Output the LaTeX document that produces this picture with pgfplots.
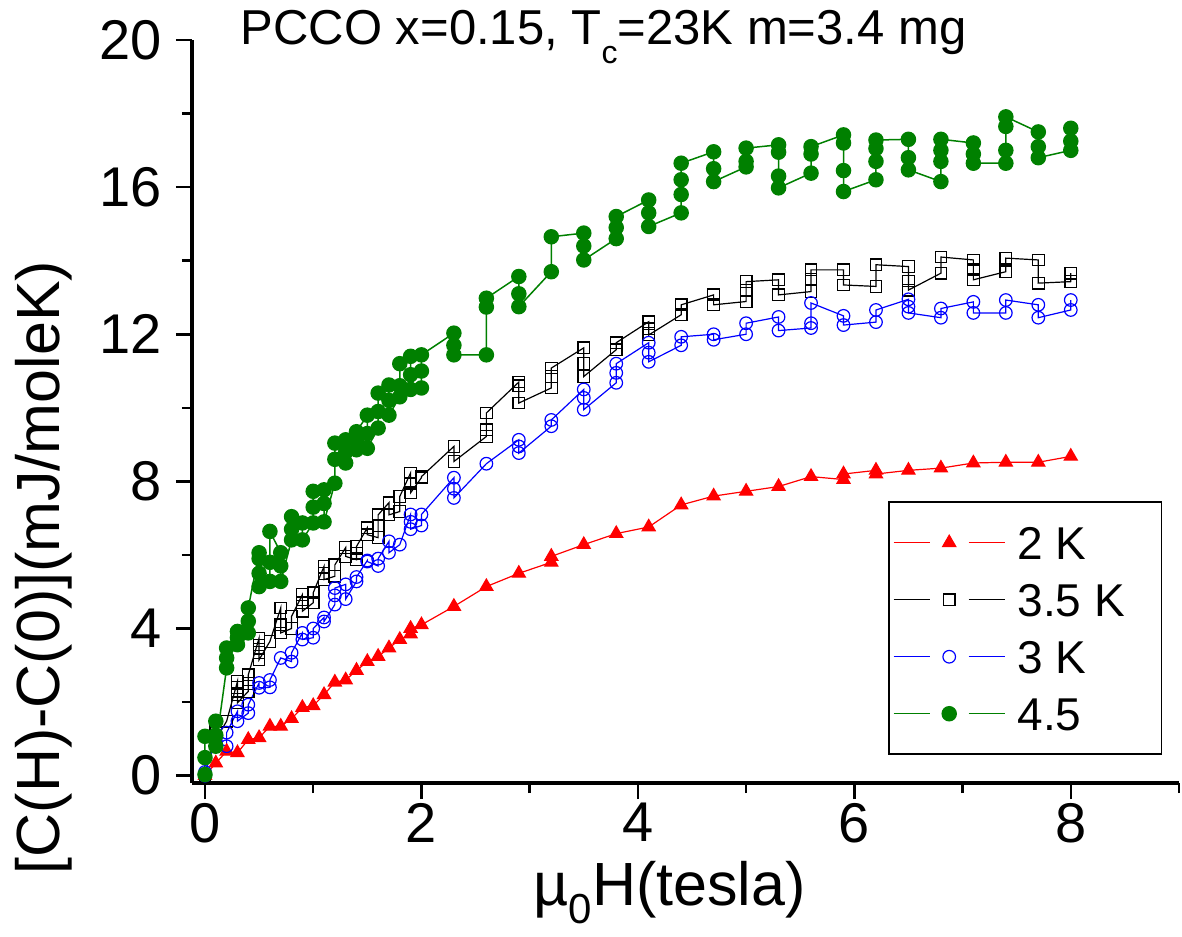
\documentclass[border=0pt]{standalone}
\usepackage{fontspec}
\setmainfont{Liberation Sans}
\usepackage{pgfplots}
\pgfplotsset{compat=1.18}
\definecolor{dkgreen}{RGB}{0,128,0}
\newcommand{\fs}[1]{\fontsize{#1}{#1}\selectfont}
\begin{document}
\begin{tikzpicture}
\path[use as bounding box] (-192bp,-154bp) rectangle (990bp,783bp);
\begin{axis}[
  at={(0,0)}, anchor=south west,
  scale only axis, width=987bp, height=743bp,
  xmin=-0.12, xmax=9, ymin=-0.2, ymax=20,
  axis x line*=bottom, axis y line*=left,
  axis line style={line width=3.5bp, black},
  xtick={0,2,4,6,8}, minor xtick={1,3,5,7,9},
  ytick={0,4,8,12,16,20}, minor ytick={2,6,10,14,18},
  tick align=outside,
  major tick length=16bp, minor tick length=10bp,
  tick style={black, line width=2.5bp},
  /pgf/number format/assume math mode=true,
  tick label style={font=\fs{56bp}},
  yticklabel style={inner sep=0pt, xshift=-14bp},
  xticklabel style={inner sep=0pt, yshift=-4bp},
  xlabel={\textmu\raisebox{-0.3em}{\fs{42bp}0}H(tesla)},
  xlabel style={at={(axis description cs:0.484,-0.1650)}, anchor=base, inner sep=0pt, font=\fs{61bp}},
  ylabel={{}[C(H)-C(0)](mJ/moleK)},
  ylabel style={at={(axis description cs:-0.150,0.29)}, anchor=center, inner sep=0pt, font=\fs{61bp}},
  clip=false,
  legend cell align=left,
  legend image code/.code={
    \draw[#1, mark=none] (0bp,0bp) -- (36bp,0bp) (75bp,0bp) -- (111bp,0bp);
    \draw[#1] plot coordinates {(55.5bp,0bp)};
  },
  legend style={at={(axis description cs:0.983,0.0377)}, anchor=south east,
    draw=black, line width=1.5bp, fill=white, font=\fs{46bp},
    inner xsep=4bp, inner ysep=24bp, row sep=24bp, column sep=12bp,
    nodes={inner sep=0pt, text height=33bp, text depth=0pt}},
]
\addplot[color=red, line width=1.2bp, mark=triangle*, mark size=7.5bp, mark options={solid, fill=red}] table {
x y
0 0
0.1 0.34
0.2 0.66
0.3 0.62
0.4 0.98
0.5 1.03
0.6 1.34
0.7 1.34
0.8 1.55
0.9 1.85
1.0 1.90
1.1 2.20
1.2 2.54
1.3 2.60
1.4 2.86
1.5 3.10
1.6 3.24
1.7 3.47
1.8 3.70
1.9 3.85
1.9 4.00
2.0 4.10
2.3 4.60
2.6 5.14
2.9 5.50
3.2 5.80
3.2 5.96
3.5 6.28
3.8 6.58
4.1 6.76
4.4 7.36
4.7 7.60
5.0 7.73
5.3 7.86
5.6 8.13
5.9 8.05
5.9 8.20
6.2 8.30
6.2 8.20
6.5 8.30
6.8 8.36
7.1 8.50
7.4 8.52
7.7 8.52
8.0 8.68
};
\addlegendentry{\makebox[140bp][l]{2 K}}
\addplot[color=black, line width=1.2bp, mark=square, mark size=5.8bp, mark options={solid}] table {
x y
0 0
0.1 1.25
0.1 0.98
0.2 1.48
0.3 2.56
0.3 2.40
0.3 2.20
0.3 1.98
0.4 2.29
0.4 2.50
0.4 2.74
0.5 3.74
0.5 3.55
0.5 3.35
0.5 3.15
0.6 3.65
0.7 4.56
0.7 4.10
0.7 3.88
0.8 4.00
0.8 4.33
0.9 4.92
0.9 4.70
0.9 4.47
1.0 4.70
1.0 4.97
1.1 5.69
1.1 5.50
1.1 5.33
1.2 5.42
1.2 5.73
1.3 6.20
1.3 5.96
1.4 5.87
1.4 6.05
1.4 6.23
1.5 6.74
1.5 6.55
1.6 6.47
1.6 6.80
1.6 7.09
1.7 7.42
1.7 7.09
1.8 7.18
1.8 7.59
1.9 8.23
1.9 7.95
1.9 7.69
2.0 8.10
2.0 8.13
2.3 8.95
2.3 8.54
2.6 9.22
2.6 9.40
2.6 9.86
2.9 10.70
2.9 10.60
2.9 10.13
3.2 10.54
3.2 10.85
3.2 11.08
3.5 11.63
3.5 11.20
3.5 10.85
3.8 11.58
3.8 11.77
4.1 12.34
4.1 12.15
4.1 11.98
4.4 12.53
4.4 12.80
4.7 13.07
4.7 12.80
5.0 12.89
5.0 13.20
5.0 13.43
5.3 13.48
5.3 13.07
5.6 13.16
5.6 13.50
5.6 13.75
5.9 13.75
5.9 13.34
6.2 13.30
6.2 13.89
6.5 13.84
6.5 13.45
6.5 13.20
6.8 13.66
6.8 14.10
7.1 14.02
7.1 13.75
7.1 13.48
7.4 13.70
7.4 14.07
7.7 14.02
7.7 13.39
8.0 13.43
8.0 13.66
};
\addlegendentry{\makebox[140bp][l]{3.5 K}}
\addplot[color=blue, line width=1.2bp, mark=o, mark size=6.3bp, mark options={solid}] table {
x y
0 0
0 0.10
0.1 0.95
0.1 0.90
0.2 0.80
0.2 1.17
0.3 1.75
0.3 1.48
0.4 1.70
0.4 1.93
0.5 2.52
0.5 2.39
0.6 2.40
0.6 2.60
0.7 3.20
0.8 3.10
0.8 3.34
0.9 3.88
0.9 3.70
1.0 3.75
1.0 4.00
1.1 4.30
1.1 4.19
1.2 4.65
1.2 4.90
1.2 5.10
1.3 5.20
1.3 4.80
1.4 5.28
1.4 5.40
1.5 5.85
1.5 5.82
1.6 5.70
1.6 5.90
1.7 6.37
1.7 6.06
1.8 6.28
1.9 7.10
1.9 6.90
1.9 6.70
2.0 6.80
2.0 7.10
2.3 8.10
2.3 7.80
2.3 7.55
2.6 8.48
2.9 9.13
2.9 8.95
2.9 8.77
3.2 9.50
3.2 9.67
3.5 10.50
3.5 10.27
3.5 9.95
3.8 10.68
3.8 10.95
3.8 11.20
4.1 11.77
4.1 11.50
4.1 11.25
4.4 11.70
4.4 11.93
4.7 12.00
4.7 11.85
5.0 12.00
5.0 12.30
5.3 12.47
5.3 12.10
5.6 12.17
5.6 12.30
5.6 12.85
5.9 12.50
5.9 12.25
6.2 12.33
6.2 12.66
6.5 12.95
6.5 12.75
6.5 12.58
6.8 12.45
6.8 12.70
7.1 12.88
7.1 12.58
7.4 12.58
7.4 12.93
7.7 12.80
7.7 12.45
8.0 12.66
8.0 12.93
};
\addlegendentry{\makebox[140bp][l]{3 K}}
\addplot[color=dkgreen, line width=1.5bp, mark=*, mark size=7bp, mark options={solid}] table {
x y
0 0.03
0 0.49
0 1.07
0.1 1.48
0.1 1.10
0.1 0.80
0.2 2.93
0.2 3.20
0.2 3.47
0.3 3.92
0.3 3.75
0.3 3.56
0.4 3.88
0.4 4.20
0.4 4.56
0.5 6.06
0.5 5.90
0.5 5.50
0.5 5.14
0.6 5.28
0.6 5.80
0.6 6.64
0.7 6.06
0.7 5.70
0.7 5.28
0.8 6.41
0.8 6.70
0.8 7.04
0.9 6.87
0.9 6.41
1.0 6.87
1.0 7.30
1.0 7.73
1.1 7.77
1.1 7.40
1.1 6.90
1.2 7.95
1.2 8.60
1.2 9.04
1.3 9.13
1.3 8.80
1.3 8.50
1.4 8.86
1.4 9.10
1.4 9.35
1.5 9.80
1.5 9.30
1.5 8.90
1.6 9.45
1.6 9.90
1.6 10.40
1.7 10.62
1.7 10.20
1.7 9.80
1.8 10.30
1.8 10.60
1.8 11.20
1.9 11.40
1.9 10.90
1.9 10.50
2.0 10.54
2.0 11.00
2.0 11.44
2.3 12.03
2.3 11.70
2.3 11.44
2.6 11.44
2.6 12.74
2.6 12.98
2.9 13.57
2.9 13.10
2.9 12.75
3.2 13.70
3.2 14.65
3.5 14.75
3.5 14.40
3.5 14.02
3.8 14.60
3.8 14.90
3.8 15.20
4.1 15.65
4.1 15.30
4.1 14.93
4.4 15.30
4.4 15.80
4.4 16.20
4.4 16.65
4.7 16.96
4.7 16.50
4.7 16.15
5.0 16.55
5.0 16.70
5.0 17.06
5.3 17.15
5.3 16.95
5.3 16.30
5.3 15.98
5.6 16.38
5.6 16.90
5.6 17.10
5.9 17.42
5.9 17.20
5.9 16.45
5.9 15.88
6.2 16.20
6.2 16.70
6.2 17.05
6.2 17.28
6.5 17.30
6.5 16.80
6.5 16.47
6.8 16.15
6.8 16.70
6.8 17.00
6.8 17.30
7.1 17.20
7.1 16.90
7.1 16.65
7.4 16.65
7.4 17.00
7.4 17.65
7.4 17.91
7.7 17.50
7.7 17.10
7.7 16.80
8.0 17.00
8.0 17.25
8.0 17.60
};
\addlegendentry{\makebox[140bp][l]{4.5}}
\node[anchor=base, inner sep=0pt, font=\fs{49bp}] at (axis description cs:0.417,0.9933) {PCCO x=0.15, T\raisebox{-0.38em}{\fs{32bp}c}=23K m=3.4 mg};
\end{axis}
\end{tikzpicture}
\end{document}
